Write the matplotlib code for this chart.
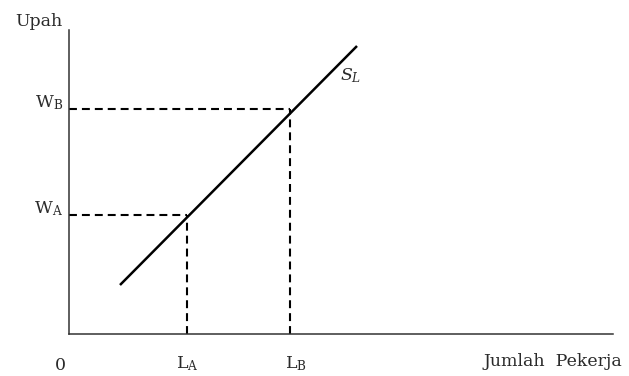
import matplotlib.pyplot as plt

# kurva penawaran tenaga kerja (titik awal dan akhir)
sl_x = [51, 288]
sl_y = [49, 288]

# titik keseimbangan A dan B
lab_x = [118, 221]     # L_A, L_B
wage_y = [119, 225]    # W_A, W_B
lab_names = [r'$\mathrm{L}_\mathrm{A}$', r'$\mathrm{L}_\mathrm{B}$']
wage_names = [r'$\mathrm{W}_\mathrm{A}$', r'$\mathrm{W}_\mathrm{B}$']

plt.rcParams['font.family'] = 'DejaVu Serif'
plt.rcParams['mathtext.fontset'] = 'dejavuserif'

fig = plt.figure(figsize=(6.29, 3.76), dpi=100)
ax = fig.add_axes([69/629, 42/376, 544/629, 304/376])
ax.set_xlim(0, 544)
ax.set_ylim(0, 304)

for s in ['top', 'right']:
    ax.spines[s].set_visible(False)
for s in ['left', 'bottom']:
    ax.spines[s].set_color('#333333')
    ax.spines[s].set_linewidth(1.1)
ax.set_xticks([])
ax.set_yticks([])

ax.plot(sl_x, sl_y, color='black', lw=1.8, solid_capstyle='butt')

for lx, wy in zip(lab_x, wage_y):
    ax.plot([0, lx], [wy, wy], color='black', lw=1.5, dashes=(3.8, 2.4), dash_capstyle='butt')
    ax.plot([lx, lx], [0, wy], color='black', lw=1.5, dashes=(3.8, 2.4), dash_capstyle='butt')

fs = 12.5
tc = '#2a2a2a'
ax.text(-6, 313, 'Upah', ha='right', va='center', fontsize=fs, color=tc, clip_on=False)
for wy, nm in zip(wage_y, wage_names):
    ax.text(-6, wy + 2, nm, ha='right', va='baseline', fontsize=fs, color=tc, clip_on=False)
ax.text(-9, -32, '0', ha='center', va='center', fontsize=fs, color=tc, clip_on=False)
for lx, nm, dx in zip(lab_x, lab_names, [0, 6]):
    ax.text(lx + dx, -30, nm, ha='center', va='center', fontsize=fs, color=tc, clip_on=False)
ax.text(553, -28, 'Jumlah  Pekerja', ha='right', va='center', fontsize=fs, color=tc, clip_on=False)
ax.text(282, 258, r'$S_L$', ha='center', va='center', fontsize=fs, color=tc, clip_on=False)

fig.savefig('out.png')
